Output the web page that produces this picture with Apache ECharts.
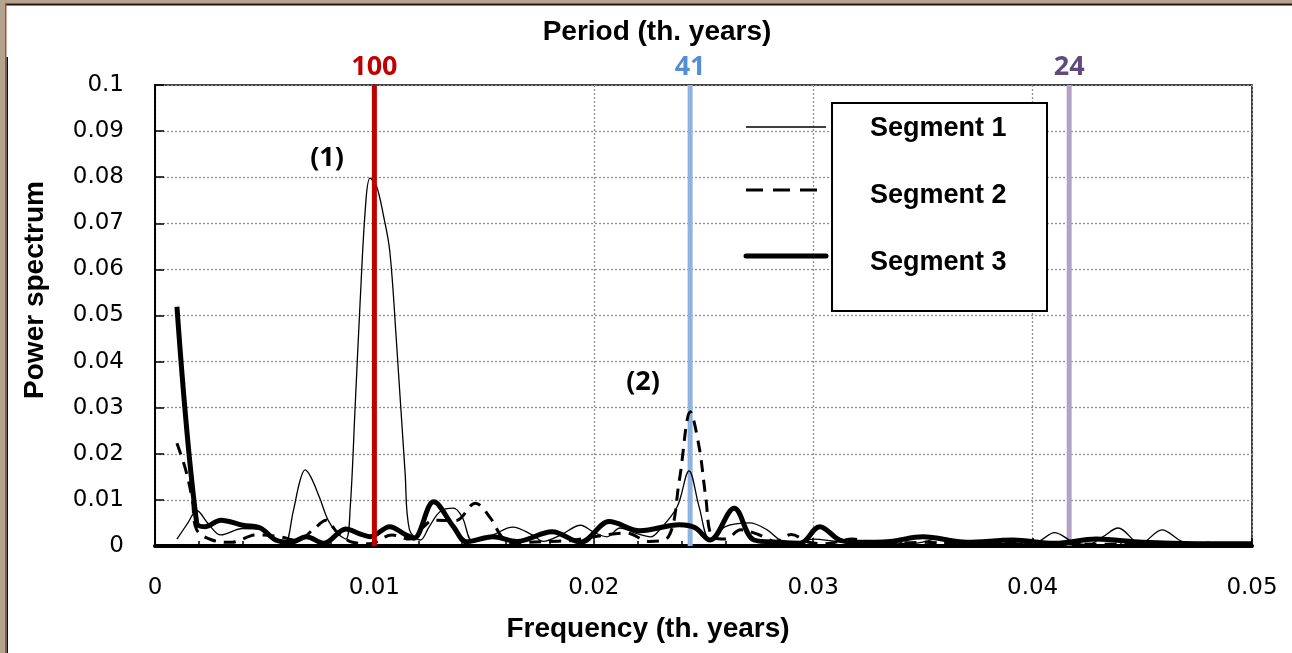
<!DOCTYPE html>
<html>
<head>
<meta charset="utf-8">
<script src="https://cdn.jsdelivr.net/npm/echarts@6/dist/echarts.min.js"></script>
<style>
  html, body { margin: 0; padding: 0; background: #fff; }
  #chart { width: 1292px; height: 653px; }
</style>
</head>
<body>
<div id="chart"></div>
<script>
// Power spectra of the three record segments: [frequency (1/th. years), power]
const segment1 = [
  [0.001,0.0015],[0.0015,0.005],[0.0019,0.0077],[0.0024,0.005],[0.003,0.0024],[0.004,0.0038],
  [0.0048,0.0036],[0.0054,0.002],[0.0059,0.0004],[0.0063,0.0075],[0.0066,0.014],[0.00684,0.0165],
  [0.0071,0.015],[0.0075,0.0105],[0.0079,0.0055],[0.0083,0.0028],[0.0087,0.0015],[0.0089,0.0085],
  [0.00912,0.030],[0.00934,0.052],[0.0096,0.074],[0.0098,0.0798],[0.0101,0.078],[0.0104,0.072],
  [0.0107,0.064],[0.011,0.0447],[0.0114,0.0158],[0.0116,0.0035],[0.0121,0.0013],[0.0125,0.0042],
  [0.013,0.0075],[0.0136,0.0082],[0.014,0.0063],[0.0145,0.0009],[0.0154,0.0024],[0.0163,0.0041],
  [0.0172,0.0024],[0.0177,0.001],[0.0185,0.0024],[0.0194,0.0045],[0.02,0.003],[0.0206,0.002],
  [0.0212,0.0039],[0.0219,0.0028],[0.0226,0.002],[0.023,0.0035],[0.0238,0.0085],[0.02434,0.0163],
  [0.0248,0.0085],[0.0253,0.0013],[0.026,0.0042],[0.0271,0.005],[0.0279,0.0035],[0.0285,0.0013],
  [0.0292,0.0008],[0.03,0.0015],[0.031,0.001],[0.032,0.0005],[0.033,0.0008],[0.0345,0.0005],
  [0.0359,0.0017],[0.037,0.0008],[0.0385,0.0005],[0.0402,0.0009],[0.041,0.0029],[0.0418,0.001],
  [0.0425,0.0003],[0.0432,0.002],[0.0439,0.0039],[0.0449,0.0005],[0.0459,0.0035],[0.0468,0.001],
  [0.0478,0.0002],[0.049,0.0002],[0.05,0.0002]
];
const segment2 = [
  [0.001,0.0223],[0.0014,0.0165],[0.0017,0.010],[0.0019,0.0035],[0.0026,0.0013],[0.0035,0.0008],
  [0.0046,0.0024],[0.0057,0.002],[0.0065,0.0012],[0.0072,0.0035],[0.0078,0.0056],[0.0083,0.003],
  [0.009,0.0008],[0.0098,0.0005],[0.0108,0.0024],[0.0116,0.0015],[0.0122,0.004],[0.0127,0.0056],
  [0.0137,0.0055],[0.0146,0.0093],[0.0153,0.006],[0.0158,0.002],[0.0163,0.0005],[0.017,0.0008],
  [0.018,0.001],[0.019,0.0012],[0.02,0.002],[0.0215,0.0028],[0.0225,0.001],[0.0234,0.002],
  [0.0239,0.0143],[0.0244,0.0291],[0.0248,0.0215],[0.0251,0.0107],[0.0254,0.002],[0.026,0.0015],
  [0.0267,0.0035],[0.0275,0.0025],[0.0283,0.001],[0.029,0.0025],[0.0298,0.0008],[0.0305,0.0005],
  [0.0318,0.0015],[0.033,0.0005],[0.035,0.0008],[0.037,0.0004],[0.04,0.0006],[0.043,0.0004],
  [0.047,0.0005],[0.05,0.0004]
];
const segment3 = [
  [0.001,0.0519],[0.0019,0.005],[0.0023,0.0042],[0.003,0.0056],[0.004,0.0045],[0.0048,0.0039],
  [0.0055,0.0013],[0.0062,0.0008],[0.0069,0.002],[0.0077,0.0006],[0.0087,0.0037],[0.0093,0.0027],
  [0.0098,0.002],[0.0107,0.0042],[0.0114,0.0025],[0.0118,0.0017],[0.0127,0.0096],[0.0136,0.0042],
  [0.0142,0.0009],[0.0154,0.002],[0.0165,0.001],[0.0181,0.0031],[0.0194,0.0008],[0.0207,0.0053],
  [0.0221,0.0033],[0.0239,0.0046],[0.0246,0.004],[0.0253,0.0013],[0.0264,0.0082],[0.0273,0.0013],
  [0.0285,0.0008],[0.0294,0.0006],[0.0303,0.0042],[0.0312,0.0013],[0.032,0.0008],[0.0335,0.001],
  [0.035,0.002],[0.037,0.0008],[0.0391,0.0013],[0.041,0.0006],[0.0429,0.0015],[0.045,0.0008],
  [0.0475,0.0005],[0.05,0.0005]
];

const seriesNames = ['Segment 1', 'Segment 2', 'Segment 3'];
// Orbital cycles marked on the frequency axis (periods in th. years)
const periods = [100, 41, 24];
const periodLineColors = ['#c00000', '#8db3e2', '#b3a2c7'];
const periodLabelColors = ['#c00000', '#558ed5', '#604a7b'];
const peakNotes = ['(1)', '(2)'];

const fmt = v => String(+v.toFixed(3));
const titleFont = { fontFamily: 'Liberation Sans', fontWeight: 'bold', fontSize: 28, fill: '#000' };
const noteFont = { fontFamily: 'Open Sans', fontWeight: 'bold', fontSize: 27, fill: '#000' };

const chart = echarts.init(document.getElementById('chart'), null, { renderer: 'canvas' });

const lineStyles = [
  { color: '#000', width: 1.3, type: 'solid' },
  { color: '#000', width: 3, type: [12, 8] },
  { color: '#000', width: 5, type: 'solid' }
];

const series = [segment1, segment2, segment3].map((d, i) => ({
  name: seriesNames[i],
  type: 'line',
  data: d,
  smooth: 0.35,
  showSymbol: false,
  symbol: 'none',
  lineStyle: lineStyles[i],
  z: 2 + i
}));

// Vertical period lines, each drawn as its own two-point series with a label on top
periods.forEach((p, i) => {
  const f = 1 / p;
  series.push({
    name: p + ' th. years',
    type: 'line',
    z: i === 0 ? 6 : 1,
    symbol: 'none',
    silent: true,
    lineStyle: { color: periodLineColors[i], width: 5, type: 'solid' },
    data: [[f, 0], [f, 0.1]],
    markPoint: {
      silent: true,
      symbol: 'circle',
      symbolSize: 0,
      data: [{
        coord: [f, 0.1],
        label: {
          show: true,
          position: 'top',
          distance: 4,
          formatter: String(p),
          color: periodLabelColors[i],
          fontFamily: 'Open Sans',
          fontWeight: 'bold',
          fontSize: 27
        }
      }]
    }
  });
});

const legendRows = [129, 196, 263];
const legendSamples = [
  { y: 127, style: { stroke: '#000', lineWidth: 1.3 } },
  { y: 190, style: { stroke: '#000', lineWidth: 3, lineDash: [17, 10] } },
  { y: 256, style: { stroke: '#000', lineWidth: 5, lineCap: 'round' } }
];

const graphic = [
  // page frame
  { type: 'rect', shape: { x: 0, y: 0, width: 1292, height: 3 }, style: { fill: '#b4a48e' }, z: 100 },
  { type: 'rect', shape: { x: 0, y: 3, width: 1292, height: 1 }, style: { fill: '#a8503c' }, z: 100 },
  { type: 'rect', shape: { x: 0, y: 4, width: 1292, height: 1.5 }, style: { fill: '#2a0c08' }, z: 100 },
  { type: 'rect', shape: { x: 0, y: 0, width: 5, height: 653 }, style: { fill: '#b4a48e' }, z: 100 },
  { type: 'rect', shape: { x: 5, y: 3, width: 1.5, height: 650 }, style: { fill: '#a8503c' }, z: 100 },
  { type: 'rect', shape: { x: 6.5, y: 57, width: 1.5, height: 596 }, style: { fill: '#111' }, z: 100 },
  // axis titles
  { type: 'text', x: 657, y: 32, style: Object.assign({ text: 'Period (th. years)', align: 'center', verticalAlign: 'middle' }, titleFont) },
  { type: 'text', x: 648, y: 629, style: Object.assign({ text: 'Frequency (th. years)', align: 'center', verticalAlign: 'middle' }, titleFont) },
  { type: 'text', x: 35, y: 290, rotation: Math.PI / 2, style: Object.assign({ text: 'Power spectrum', align: 'center', verticalAlign: 'middle' }, titleFont) },
  // peak notes
  { type: 'text', x: 327, y: 158, style: Object.assign({ text: peakNotes[0], align: 'center', verticalAlign: 'middle' }, noteFont), z: 20 },
  { type: 'text', x: 643, y: 382, style: Object.assign({ text: peakNotes[1], align: 'center', verticalAlign: 'middle' }, noteFont), z: 20 },
  // legend
  { type: 'rect', shape: { x: 832, y: 103, width: 215, height: 208 }, style: { fill: '#fff', stroke: '#000', lineWidth: 2 }, z: 20 }
];
legendSamples.forEach(s => {
  graphic.push({ type: 'line', shape: { x1: 746, y1: s.y, x2: 826, y2: s.y }, style: s.style, z: 20 });
});
seriesNames.forEach((n, i) => {
  graphic.push({ type: 'text', x: 870, y: legendRows[i], style: Object.assign({ text: n, align: 'left', verticalAlign: 'middle' }, titleFont, { fontSize: 27 }), z: 21 });
});

chart.setOption({
  animation: false,
  backgroundColor: '#fff',
  grid: { left: 155, right: 40, top: 85, bottom: 107, show: true, borderColor: '#000', borderWidth: 1.5 },
  xAxis: {
    type: 'value',
    min: 0, max: 0.05, interval: 0.01,
    axisLine: { show: true, lineStyle: { color: '#000', width: 4 } },
    axisTick: { show: true, inside: true, length: 8, lineStyle: { color: '#000', width: 1.5 } },
    minorTick: { show: true, splitNumber: 5, length: 5, lineStyle: { color: '#000', width: 1.5 } },
    axisLabel: { formatter: fmt, margin: 31, color: '#000', fontFamily: 'DejaVu Sans', fontSize: 23 },
    splitLine: { show: true, lineStyle: { color: '#8f8f8f', type: [2, 2], width: 1.3 } }
  },
  yAxis: {
    type: 'value',
    min: 0, max: 0.1, interval: 0.01,
    axisLine: { show: true, lineStyle: { color: '#000', width: 2 } },
    axisTick: { show: true, inside: true, length: 9, lineStyle: { color: '#000', width: 1.5 } },
    axisLabel: { formatter: fmt, margin: 31, color: '#000', fontFamily: 'DejaVu Sans', fontSize: 23 },
    splitLine: { show: true, lineStyle: { color: '#8f8f8f', type: [2, 2], width: 1.3 } }
  },
  series: series,
  graphic: graphic
});
</script>
</body>
</html>
